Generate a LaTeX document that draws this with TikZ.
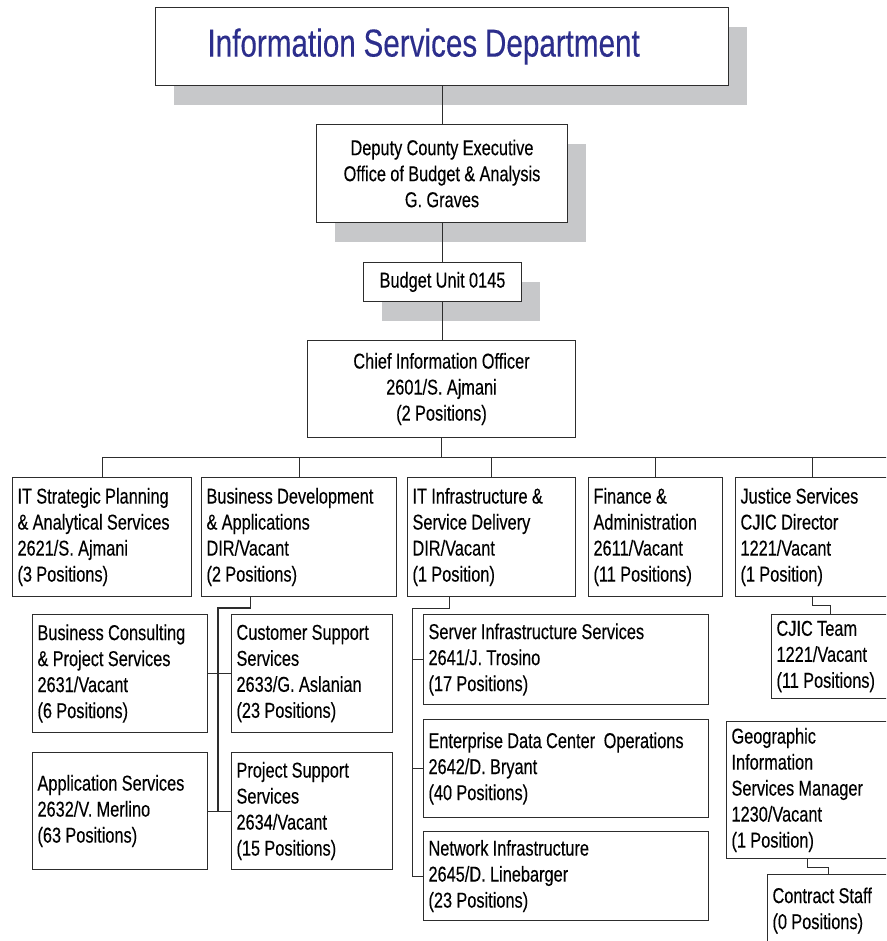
\documentclass[tikz,border=0pt]{standalone}
\usepackage{fontspec}
\setmainfont{Liberation Sans}[FakeStretch=0.76, FakeBold=0.25]
\XeTeXinterwordspaceshaping=0
\usetikzlibrary{shadows,calc}
\definecolor{titleblue}{RGB}{44,46,140}
\definecolor{shadowgray}{RGB}{199,200,202}
\definecolor{linegray}{RGB}{45,45,45}
\newcommand{\bodyfont}{\fontsize{21.5}{26}\selectfont}
\newcommand{\headfont}{\fontsize{39}{44}\selectfont}
\begin{document}
\begin{tikzpicture}[x=1pt,y=-1pt,
  unit/.style={draw=linegray, line width=1pt, fill=white, anchor=north west,
    inner xsep=5pt, inner ysep=0pt, align=left, font=\bodyfont,
    execute at begin node={\spaceskip=4.3pt\xspaceskip=4.3pt\relax}},
  topunit/.style={unit, align=center,
    drop shadow={fill=shadowgray, opacity=1, shadow xshift=18pt, shadow yshift=-19.5pt}},
  conn/.style={draw=linegray, line width=1pt},
  spine/.style={draw=linegray, line width=1.6pt}]
\useasboundingbox (0,0) rectangle (886,941);
\clip (0,0) rectangle (886,941);

% heading and upper chain
\node[topunit, align=left, inner xsep=52pt, text width=469pt, minimum height=78pt,
  font=\headfont, text=titleblue,
  execute at begin node={\spaceskip=7.8pt\xspaceskip=7.8pt\relax}] (title) at (155,7)
  {Information Services Department};
\node[topunit, text width=241pt, minimum height=98pt] (deputy) at (316,124)
  {Deputy County Executive\\Office of Budget \& Analysis\\G. Graves};
\node[topunit, text width=148pt, minimum height=39pt] (budget) at (363,262) {Budget Unit 0145};
\node[unit, align=center, text width=258pt, minimum height=97pt] (cio) at (307,340)
  {Chief Information Officer\\2601/S. Ajmani\\(2 Positions)};

% divisions
\node[unit, text width=169pt, minimum height=119pt] (its) at (12,477)
  {IT Strategic Planning\\\& Analytical Services\\2621/S. Ajmani\\(3 Positions)};
\node[unit, text width=185pt, minimum height=119pt] (bd) at (201,477)
  {Business Development\\\& Applications\\DIR/Vacant\\(2 Positions)};
\node[unit, text width=158pt, minimum height=119pt] (infra) at (407,477)
  {IT Infrastructure \&\\Service Delivery\\DIR/Vacant\\(1 Position)};
\node[unit, text width=124pt, minimum height=119pt] (fin) at (588,477)
  {Finance \&\\Administration\\2611/Vacant\\(11 Positions)};
\node[unit, text width=143pt, minimum height=119pt] (just) at (735,477)
  {Justice Services\\CJIC Director\\1221/Vacant\\(1 Position)};

% business development units
\node[unit, text width=165pt, minimum height=118pt] (bc) at (32,614)
  {Business Consulting\\\& Project Services\\2631/Vacant\\(6 Positions)};
\node[unit, text width=151pt, minimum height=118pt] (cs) at (231,614)
  {Customer Support\\Services\\2633/G. Aslanian\\(23 Positions)};
\node[unit, text width=165pt, minimum height=117pt] (as) at (32,752)
  {Application Services\\2632/V. Merlino\\(63 Positions)};
\node[unit, text width=151pt, minimum height=117pt] (ps) at (231,752)
  {Project Support\\Services\\2634/Vacant\\(15 Positions)};

% infrastructure units
\node[unit, text width=275pt, minimum height=90pt] (srv) at (423,614)
  {Server Infrastructure Services\\2641/J. Trosino\\(17 Positions)};
\node[unit, text width=275pt, minimum height=98pt] (ent) at (423,719)
  {Enterprise Data Center\hspace{8.6pt}Operations\\2642/D. Bryant\\(40 Positions)};
\node[unit, text width=275pt, minimum height=89pt] (net) at (423,831)
  {Network Infrastructure\\2645/D. Linebarger\\(23 Positions)};

% justice and GIS units
\node[unit, text width=107pt, minimum height=84pt] (cjic) at (771,614)
  {CJIC Team\\1221/Vacant\\(11 Positions)};
\node[unit, text width=152pt, minimum height=137pt] (gis) at (726,721)
  {Geographic\\Information\\Services Manager\\1230/Vacant\\(1 Position)};
\node[unit, text width=111pt, minimum height=72pt] (contract) at (767,874)
  {Contract Staff\\(0 Positions)};

% upper chain connectors
\draw[conn] (title.south) -- (title.south |- deputy.north);
\draw[conn] (deputy.south) -- (deputy.south |- budget.north);
\draw[conn] (budget.south) -- (budget.south |- cio.north);

% division bus
\coordinate (busend) at (890,457);
\draw[conn] (cio.south) -- (cio.south |- busend);
\draw[conn] (its.north |- busend) -- (busend);
\foreach \n in {its,bd,infra,fin,just}
  \draw[conn] (\n.north |- busend) -- (\n.north);

% business development branch
\draw[spine] ([xshift=-48.5pt]bd.south) -- ++(0,11) -| ([xshift=10pt]as.east);
\draw[conn] (bc.east) -- (cs.west);
\draw[conn] (as.east) -- (ps.west);

% infrastructure branch
\draw[conn] ([xshift=-42pt]infra.south) -- ++(0,11) -| ([xshift=-11pt]net.west) -- (net.west);
\draw[conn] (srv.west) -- ++(-11,0);
\draw[conn] (ent.west) -- ++(-11,0);

% justice and GIS branches
\draw[conn] (just.south) -- ++(0,8) -| (cjic.north);
\draw[conn] (gis.south) -- ++(0,8) -| (contract.north);
\end{tikzpicture}
\end{document}
